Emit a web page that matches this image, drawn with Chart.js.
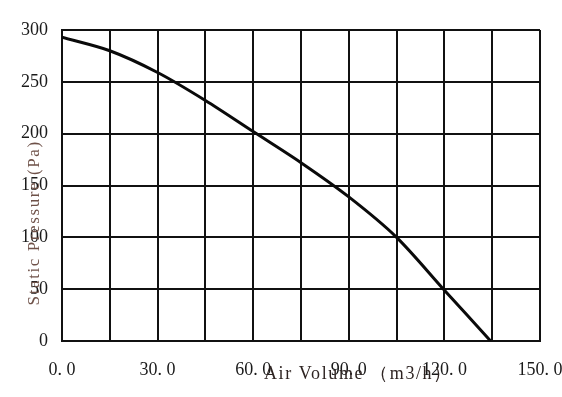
<!DOCTYPE html>
<html>
<head>
<meta charset="utf-8">
<script src="https://cdn.jsdelivr.net/npm/chart.js@4/dist/chart.umd.min.js"></script>
<style>
  html, body { margin: 0; padding: 0; background: #fff; }
  #wrap { width: 562px; height: 397px; }
</style>
</head>
<body>
<div id="wrap"><canvas id="fanCurve"></canvas></div>
<script>
// Fan P-Q curve
const airVolume = [0, 15, 30, 45, 60, 75, 90, 105, 120, 134.5];
const staticPressure = [293, 280, 259, 232, 202, 172, 139, 100, 49, 0];

const xLabelValues = [0, 30, 60, 90, 120, 150];
const yTickValues = [0, 50, 100, 150, 200, 250, 300];

const xTitle = 'Air Volume （m3/h）';
const yTitle = 'Static Pressure (Pa)';

const serif = '"Liberation Serif", "DejaVu Serif", serif';

// axis titles sit over the tick labels like in the scan
const overlapTitles = {
  id: 'overlapTitles',
  afterDraw(chart) {
    const ctx = chart.ctx;
    const a = chart.chartArea;
    ctx.save();
    ctx.font = '18px ' + serif;
    ctx.textAlign = 'center';
    ctx.textBaseline = 'middle';
    ctx.letterSpacing = '1.6px';
    ctx.fillStyle = '#2e2422';
    ctx.fillText(xTitle, a.left + (a.right - a.left) * 0.62, a.bottom + 33);

    ctx.font = '17px ' + serif;
    ctx.letterSpacing = '1.6px';
    ctx.fillStyle = '#6e5148';
    ctx.translate(a.left - 27, a.top + (a.bottom - a.top) * 0.62);
    ctx.rotate(-Math.PI / 2);
    ctx.fillText(yTitle, 0, 0);
    ctx.restore();
  }
};

new Chart(document.getElementById('fanCurve'), {
  type: 'line',
  data: {
    datasets: [{
      label: 'Static Pressure',
      data: airVolume.map((x, i) => ({ x: x, y: staticPressure[i] })),
      borderColor: '#0a0a0a',
      borderWidth: 3,
      pointRadius: 0,
      fill: false,
      tension: 0.3
    }]
  },
  options: {
    responsive: true,
    maintainAspectRatio: false,
    animation: false,
    layout: { padding: { top: 30, right: 22, left: 0, bottom: 0 } },
    plugins: { legend: { display: false }, tooltip: { enabled: false } },
    scales: {
      x: {
        type: 'linear',
        min: 0,
        max: 150,
        grid: { color: '#111', lineWidth: 2, drawTicks: false },
        border: { color: '#111', width: 2 },
        afterBuildTicks: s => { s.ticks = []; for (let v = 0; v <= 150; v += 15) s.ticks.push({ value: v }); },
        ticks: {
          autoSkip: false,
          maxRotation: 0,
          padding: 18,
          color: '#1a1a1a',
          font: { family: serif, size: 18 },
          callback: v => xLabelValues.includes(v) ? v.toFixed(1).replace('.', '. ') : ''
        },
        afterFit: s => { s.height = 56; s.paddingLeft = 0; s.paddingRight = 0; }
      },
      y: {
        min: 0,
        max: 300,
        grid: { color: '#111', lineWidth: 2, drawTicks: false },
        border: { color: '#111', width: 2 },
        afterBuildTicks: s => { s.ticks = yTickValues.map(v => ({ value: v })); },
        ticks: {
          padding: 14,
          color: '#1a1a1a',
          font: { family: serif, size: 18 }
        },
        afterFit: s => { s.width = 62; }
      }
    }
  },
  plugins: [overlapTitles]
});
</script>
</body>
</html>
